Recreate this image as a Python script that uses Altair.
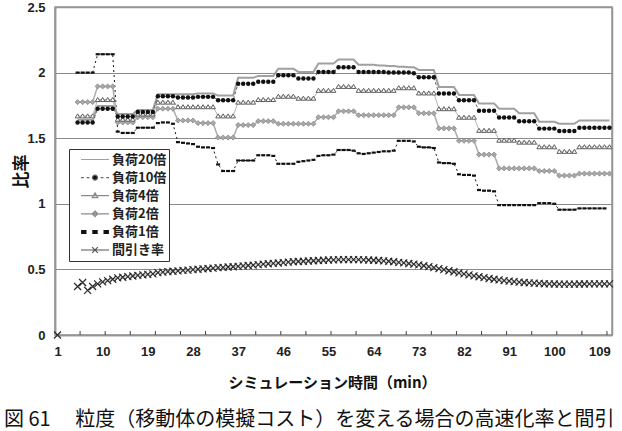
import altair as alt
import pandas as pd

N = None
categories = list(range(1, 112))
series_names = ["負荷20倍", "負荷10倍", "負荷4倍", "負荷2倍", "負荷1倍", "間引き率"]
x_label_values = [0.5, 1, 10, 19, 28, 37, 46, 55, 64, 73, 82, 91, 100, 109, 111.5]
x_tick_values = [5.5, 10.5, 15.5, 20.5, 25.5, 30.5, 35.5, 40.5, 45.5, 50.5, 55.5,
                 60.5, 65.5, 70.5, 75.5, 80.5, 85.5, 90.5, 95.5, 100.5, 105.5, 110.5]
y_tick_values = [0, 0.5, 1, 1.5, 2, 2.5]

load20 = [
    N, N, N, N,
    1.64, 1.64, 1.64, 1.64,
    1.745, 1.745, 1.745, 1.745,
    1.685, 1.685, 1.685, 1.685,
    1.715, 1.715, 1.715, 1.715,
    1.835, 1.835, 1.835, 1.835,
    1.835, 1.835, 1.835, 1.835,
    1.84, 1.84, 1.84, 1.84,
    1.825, 1.825, 1.825, 1.825,
    1.96, 1.96, 1.96, 1.96,
    1.975, 1.975, 1.975, 1.975,
    2.03, 2.03, 2.03, 2.03,
    2.005, 2.005, 2.005, 2.005,
    2.07, 2.07, 2.07, 2.07,
    2.10, 2.10, 2.10, 2.10,
    2.06, 2.06, 2.06, 2.06,
    2.055, 2.055, 2.05, 2.05,
    2.045, 2.045, 2.04, 2.04,
    2.02, 2.02, 2.02, 2.02,
    1.89, 1.89, 1.89, 1.89,
    1.83, 1.83, 1.83, 1.83,
    1.765, 1.765, 1.765, 1.765,
    1.725, 1.725, 1.725, 1.725,
    1.69, 1.69, 1.69, 1.69,
    1.625, 1.625, 1.625, 1.625,
    1.61, 1.61, 1.61, 1.61,
    1.635, 1.635, 1.635, 1.635,
    1.635, 1.635, 1.635,
]

load10 = [
    N, N, N, N,
    1.62, 1.62, 1.62, 1.62,
    1.725, 1.725, 1.725, 1.725,
    1.665, 1.665, 1.665, 1.665,
    1.70, 1.70, 1.70, 1.70,
    1.82, 1.82, 1.82, 1.82,
    1.81, 1.81, 1.81, 1.81,
    1.815, 1.815, 1.815, 1.815,
    1.79, 1.79, 1.79, 1.79,
    1.915, 1.915, 1.915, 1.915,
    1.93, 1.93, 1.93, 1.93,
    1.98, 1.98, 1.98, 1.98,
    1.955, 1.955, 1.955, 1.955,
    2.005, 2.005, 2.005, 2.005,
    2.04, 2.04, 2.04, 2.04,
    2.005, 2.005, 2.005, 2.005,
    2.005, 2.005, 2.0, 2.0,
    2.0, 2.0, 2.0, 1.995,
    1.965, 1.965, 1.965, 1.965,
    1.84, 1.84, 1.84, 1.84,
    1.79, 1.79, 1.79, 1.79,
    1.71, 1.71, 1.71, 1.71,
    1.657, 1.657, 1.657, 1.657,
    1.63, 1.63, 1.63, 1.63,
    1.573, 1.573, 1.573, 1.573,
    1.555, 1.555, 1.555, 1.555,
    1.58, 1.58, 1.58, 1.58,
    1.58, 1.58, 1.58,
]

load4 = [
    N, N, N, N,
    1.67, 1.67, 1.67, 1.67,
    1.795, 1.795, 1.795, 1.795,
    1.645, 1.645, 1.645, 1.645,
    1.685, 1.685, 1.685, 1.685,
    1.775, 1.775, 1.775, 1.775,
    1.74, 1.74, 1.74, 1.74,
    1.74, 1.74, 1.74, 1.74,
    1.67, 1.67, 1.67, 1.67,
    1.775, 1.775, 1.775, 1.775,
    1.795, 1.795, 1.795, 1.795,
    1.82, 1.82, 1.82, 1.82,
    1.805, 1.805, 1.805, 1.805,
    1.865, 1.865, 1.865, 1.865,
    1.895, 1.895, 1.895, 1.895,
    1.865, 1.865, 1.865, 1.865,
    1.865, 1.865, 1.865, 1.865,
    1.885, 1.885, 1.885, 1.885,
    1.845, 1.845, 1.845, 1.845,
    1.725, 1.725, 1.725, 1.725,
    1.66, 1.66, 1.66, 1.66,
    1.56, 1.56, 1.56, 1.56,
    1.485, 1.485, 1.485, 1.485,
    1.47, 1.47, 1.47, 1.47,
    1.435, 1.435, 1.435, 1.435,
    1.40, 1.40, 1.40, 1.40,
    1.435, 1.435, 1.435, 1.435,
    1.435, 1.435, 1.435,
]

load2 = [
    N, N, N, N,
    1.775, 1.775, 1.775, 1.775,
    1.895, 1.895, 1.895, 1.895,
    1.62, 1.62, 1.62, 1.62,
    1.66, 1.66, 1.66, 1.66,
    1.725, 1.725, 1.725, 1.725,
    1.635, 1.635, 1.635, 1.635,
    1.615, 1.615, 1.615, 1.615,
    1.505, 1.505, 1.505, 1.505,
    1.60, 1.60, 1.60, 1.60,
    1.63, 1.63, 1.63, 1.63,
    1.61, 1.61, 1.61, 1.61,
    1.61, 1.61, 1.61, 1.61,
    1.66, 1.66, 1.66, 1.66,
    1.705, 1.705, 1.705, 1.705,
    1.675, 1.675, 1.675, 1.675,
    1.675, 1.675, 1.675, 1.675,
    1.735, 1.735, 1.735, 1.735,
    1.69, 1.69, 1.69, 1.69,
    1.575, 1.575, 1.575, 1.575,
    1.48, 1.48, 1.48, 1.48,
    1.375, 1.375, 1.375, 1.375,
    1.27, 1.27, 1.27, 1.27,
    1.27, 1.27, 1.27, 1.27,
    1.25, 1.25, 1.25, 1.25,
    1.215, 1.215, 1.215, 1.215,
    1.23, 1.23, 1.23, 1.23,
    1.23, 1.23, 1.23,
]

load1 = [
    N, N, N, N,
    2.00, 2.00, 2.00, 2.00,
    2.14, 2.14, 2.14, 2.14,
    1.55, 1.54, 1.54, 1.54,
    1.58, 1.58, 1.58, 1.58,
    1.615, 1.62, 1.62, 1.61,
    1.47, 1.465, 1.46, 1.455,
    1.435, 1.43, 1.43, 1.425,
    1.30, 1.25, 1.25, 1.25,
    1.33, 1.33, 1.33, 1.33,
    1.37, 1.37, 1.37, 1.365,
    1.305, 1.305, 1.305, 1.305,
    1.32, 1.325, 1.33, 1.335,
    1.365, 1.37, 1.37, 1.375,
    1.41, 1.41, 1.41, 1.405,
    1.385, 1.38, 1.385, 1.39,
    1.395, 1.40, 1.40, 1.405,
    1.48, 1.48, 1.48, 1.475,
    1.435, 1.43, 1.43, 1.425,
    1.315, 1.31, 1.31, 1.305,
    1.225, 1.22, 1.22, 1.215,
    1.105, 1.10, 1.10, 1.095,
    0.99, 0.99, 0.99, 0.99,
    0.99, 0.99, 0.99, 0.99,
    1.005, 1.005, 1.005, 1.00,
    0.955, 0.955, 0.955, 0.955,
    0.965, 0.965, 0.965, 0.965,
    0.965, 0.965, N,
]

thinning = [
    0.0, N, N, N,
    0.37, 0.40, 0.34, 0.37,
    0.39, 0.405, 0.415, 0.425,
    0.435, 0.44, 0.445, 0.45,
    0.455, 0.458, 0.462, 0.466,
    0.475, 0.479, 0.483, 0.486,
    0.489, 0.492, 0.495, 0.498,
    0.501, 0.504, 0.507, 0.51,
    0.513, 0.515, 0.518, 0.52,
    0.523, 0.527, 0.53, 0.533,
    0.536, 0.54, 0.543, 0.546,
    0.549, 0.552, 0.555, 0.558,
    0.56, 0.562, 0.564, 0.566,
    0.568, 0.57, 0.572, 0.573,
    0.574, 0.575, 0.575, 0.575,
    0.574, 0.573, 0.572, 0.57,
    0.568, 0.565, 0.562, 0.558,
    0.554, 0.55, 0.545, 0.54,
    0.535, 0.528, 0.521, 0.514,
    0.506, 0.498, 0.49, 0.482,
    0.474, 0.466, 0.458, 0.451,
    0.444, 0.437, 0.431, 0.425,
    0.42, 0.415, 0.411, 0.407,
    0.403, 0.40, 0.397, 0.395,
    0.393, 0.391, 0.39, 0.389,
    0.388, 0.388, 0.388, 0.388,
    0.389, 0.389, 0.39, 0.39,
    0.39, 0.39, 0.39,
]

JP = "Noto Sans CJK JP"
NUM = "Liberation Sans Narrow, Liberation Sans, Arial"
FRAME = "#959595"


def frame(values):
    d = pd.DataFrame({"cat": categories, "value": values})
    return d.dropna()


d20, d10, d4, d2, d1, dth = (frame(v) for v in (load20, load10, load4, load2, load1, thinning))
dth_line = dth[dth["cat"] >= 5]
ticks_df = pd.DataFrame({"cat": x_tick_values})

xscale = alt.Scale(domain=[0.5, 111.5], nice=False, zero=False)
yscale = alt.Scale(domain=[0, 2.5], nice=False, zero=True)

x_axis = alt.Axis(
    values=x_label_values, ticks=False,
    labelExpr="(datum.value < 1 || datum.value > 110) ? '' : '' + datum.value",
    grid=True, gridColor=FRAME, gridWidth=1.5,
    gridOpacity={"condition": {"test": "datum.value < 1 || datum.value > 110", "value": 1},
                 "value": 0},
    domain=True, domainColor=FRAME, domainWidth=1.5,
    labelFont=NUM, labelFontSize=13, labelFontWeight="bold", labelColor="#222222",
    labelPadding=10, labelFlush=False, labelOverlap=False,
    title="シミュレーション時間（min）", titleFont=JP, titleFontSize=15,
    titleFontWeight="bold", titleColor="#111111",
    titleX=277, titleY=47, titleAlign="center", titleBaseline="middle",
)
y_axis = alt.Axis(
    values=y_tick_values, labelExpr="'' + datum.value", grid=True,
    gridColor={"condition": {"test": "datum.value == 0 || datum.value == 2.5", "value": FRAME},
               "value": "#8a8a8a"},
    gridWidth={"condition": {"test": "datum.value == 0 || datum.value == 2.5", "value": 1.5},
               "value": 1},
    ticks=False,
    domain=True, domainColor=FRAME, domainWidth=1.5,
    labelFont=NUM, labelFontSize=13, labelFontWeight="bold", labelColor="#222222",
    labelPadding=10,
    title="比率", titleFont=JP, titleFontSize=17, titleFontWeight="bold",
    titleColor="#111111", titleAngle=270, titleX=-34, titleY=164,
    titleAlign="center", titleBaseline="middle",
)


def X():
    return alt.X("cat:Q", scale=xscale, axis=x_axis)


def Y():
    return alt.Y("value:Q", scale=yscale, axis=y_axis)


XPATH = "M-1,-1L1,1M-1,1L1,-1"
DASH = "M-1,-0.55L1,-0.55L1,0.55L-1,0.55Z"

layers = [
    alt.Chart(dth_line).mark_line(color="#bdbdbd", strokeWidth=1).encode(x=X(), y=Y()),
    alt.Chart(ticks_df).mark_rule(color="#444444", strokeWidth=1).encode(
        x=X(), y=alt.value(328), y2=alt.value(324)),
    alt.Chart(dth).mark_point(shape=XPATH, filled=False, color="#2a2a2a", strokeWidth=1.2,
                              size=49, opacity=1).encode(x=X(), y=Y()),
    alt.Chart(d1).mark_line(color="#111111", strokeWidth=1, strokeDash=[2, 3]).encode(x=X(), y=Y()),
    alt.Chart(d1).mark_point(shape=DASH, filled=True, color="#111111", size=16,
                             opacity=1).encode(x=X(), y=Y()),
    alt.Chart(d2).mark_line(color="#ababab", strokeWidth=1.5).encode(x=X(), y=Y()),
    alt.Chart(d2).mark_point(shape="diamond", filled=True, fill="#a8a8a8", stroke="#8c8c8c",
                             strokeWidth=0.8, size=26, opacity=1).encode(x=X(), y=Y()),
    alt.Chart(d4).mark_line(color="#b5b5b5", strokeWidth=1).encode(x=X(), y=Y()),
    alt.Chart(d4).mark_point(shape="triangle-up", filled=True, fill="#ffffff", stroke="#5e5e5e",
                             strokeWidth=1, size=22, opacity=1).encode(x=X(), y=Y()),
    alt.Chart(d20).mark_line(color="#a0a0a0", strokeWidth=2).encode(x=X(), y=Y()),
    alt.Chart(d10).mark_line(color="#666666", strokeWidth=1, strokeDash=[3, 2]).encode(x=X(), y=Y()),
    alt.Chart(d10).mark_point(shape="circle", filled=True, color="#111111", size=20,
                              opacity=1).encode(x=X(), y=Y()),
]

# legend (drawn by Vega's legend from a shape/fill/stroke scale; no data marks)
legend_paths = [
    "M-1,0L1,0",
    "M-1,0L-0.8,0M-0.6,0L-0.4,0M0.4,0L0.6,0M0.8,0L1,0"
    "M-0.18,0A0.18,0.18 0 1,0 0.18,0A0.18,0.18 0 1,0 -0.18,0Z",
    "M-1,0L1,0M0,-0.2L0.2,0.14L-0.2,0.14Z",
    "M-1,0L1,0M0,-0.2L0.2,0L0,0.2L-0.2,0Z",
    "M-0.95,-0.1L-0.65,-0.1L-0.65,0.1L-0.95,0.1Z"
    "M-0.15,-0.1L0.15,-0.1L0.15,0.1L-0.15,0.1Z"
    "M0.65,-0.1L0.95,-0.1L0.95,0.1L0.65,0.1Z",
    "M-1,0L1,0M-0.2,-0.2L0.2,0.2M-0.2,0.2L0.2,-0.2",
]
legend_fills = ["#ffffff", "#111111", "#ffffff", "#a8a8a8", "#111111", "#ffffff"]
legend_strokes = ["#a0a0a0", "#666666", "#8a8a8a", "#8c8c8c", "#111111", "#555555"]

leg_args = dict(
    orient="none", legendX=14, legendY=142, title=None,
    strokeColor="#333333", fillColor="#ffffff", padding=2,
    symbolSize=784, symbolStrokeWidth=1.2, symbolOffset=9,
    labelFont=JP, labelFontSize=13, labelFontWeight="bold", labelColor="#222222",
    labelOffset=2, labelLimit=300, clipHeight=17, rowPadding=1.1,
    labelExpr="datum.label + '  '",
)
legend_df = pd.DataFrame({"series": series_names})
legend_layer = alt.Chart(legend_df).transform_filter("false").mark_point(
    filled=True, opacity=1, size=784
).encode(
    x=alt.value(0), y=alt.value(0),
    shape=alt.Shape("series:N", scale=alt.Scale(domain=series_names, range=legend_paths),
                    legend=alt.Legend(**leg_args)),
    fill=alt.Fill("series:N", scale=alt.Scale(domain=series_names, range=legend_fills),
                  legend=alt.Legend(**leg_args)),
    stroke=alt.Stroke("series:N", scale=alt.Scale(domain=series_names, range=legend_strokes),
                      legend=alt.Legend(**leg_args)),
)
layers.append(legend_layer)

caption = "図 61　 粒度（移動体の模擬コスト）を変える場合の高速化率と間引"

chart = alt.layer(*layers).properties(
    width=557, height=328,
    autosize=alt.AutoSizeParams(type="none"),
    padding={"left": 55, "top": 7, "right": 10, "bottom": 96},
    background="white",
    title=alt.TitleParams(
        text=caption, orient="bottom", anchor="start", frame="group", dx=-51, offset=20,
        font=JP, fontSize=20, fontWeight="normal", color="#111111",
    ),
).configure_view(stroke=FRAME, strokeWidth=1.5)

chart.save("out.html", embed_options={"renderer": "svg", "actions": False})
